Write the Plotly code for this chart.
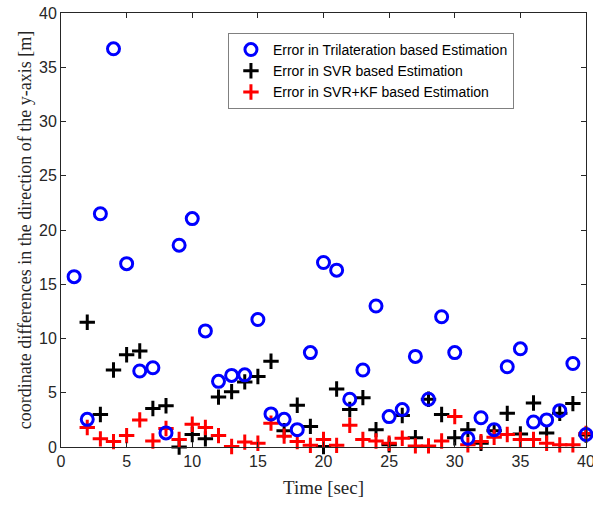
import plotly.graph_objects as go

time_tri = list(range(1, 41))
err_tri = [15.7, 2.55, 21.5, 36.7, 16.9, 7.0, 7.3, 1.3, 18.6, 21.05,
           10.7, 6.05, 6.6, 6.65, 11.75, 3.05, 2.55, 1.6, 8.7, 17.0,
           16.3, 4.4, 7.1, 13.0, 2.8, 3.45, 8.35, 4.4, 12.0, 8.7,
           0.8, 2.7, 1.6, 7.4, 9.05, 2.3, 2.5, 3.35, 7.7, 1.15]

time_svr = list(range(2, 41))
err_svr = [11.5, 3.0, 7.1, 8.5, 8.85, 3.55, 3.8, 0.0, 1.15, 0.75,
           4.6, 5.1, 6.0, 6.5, 7.9, 1.5, 3.85, 1.9, 0.05, 5.35,
           3.45, 4.55, 1.6, 0.2, 2.9, 0.85, 4.4, 3.0, 0.85, 1.6,
           0.35, 1.5, 3.1, 1.2, 4.05, 1.3, 3.1, 4.0, 1.1]

time_kf = list(range(2, 41))
err_kf = [1.8, 0.75, 0.5, 1.05, 2.5, 0.55, 1.7, 0.7, 2.1, 1.8,
          1.05, 0.05, 0.45, 0.35, 2.2, 1.0, 0.5, 0.15, 0.7, 0.15,
          2.0, 0.7, 0.55, 0.35, 0.8, 0.1, 0.1, 0.55, 2.8, 0.2,
          0.5, 0.9, 1.15, 0.7, 0.7, 0.35, 0.2, 0.2, 1.25]

names = ["Error in Trilateration based Estimation",
         "Error in SVR based Estimation",
         "Error in SVR+KF based Estimation"]

fig = go.Figure()
fig.add_trace(go.Scatter(
    x=time_svr, y=err_svr, mode="markers", name=names[1], legendrank=2,
    marker=dict(symbol="cross-thin", size=11, color="black",
                line=dict(width=3, color="black")),
    cliponaxis=False))
fig.add_trace(go.Scatter(
    x=time_kf, y=err_kf, mode="markers", name=names[2], legendrank=3,
    marker=dict(symbol="cross-thin", size=11, color="#ff0000",
                line=dict(width=3, color="#ff0000")),
    cliponaxis=False))
fig.add_trace(go.Scatter(
    x=time_tri, y=err_tri, mode="markers", name=names[0], legendrank=1,
    marker=dict(symbol="circle-open", size=12, color="#0000ff",
                line=dict(width=3, color="#0000ff")),
    cliponaxis=False))

axis_common = dict(
    showgrid=False, zeroline=False, showline=True, mirror="ticks",
    linecolor="#262626", linewidth=1, ticks="inside", ticklen=5,
    tickcolor="#262626", tickwidth=1, automargin=False,
    ticklabeloverflow="allow",
    tickfont=dict(family="Liberation Sans, Arial", size=16, color="#262626"),
)

fig.update_layout(
    width=593, height=507,
    margin=dict(l=61, r=7, t=13, b=60),
    paper_bgcolor="white", plot_bgcolor="white",
    xaxis=dict(range=[0, 40], dtick=5, tick0=0,
               title=dict(text="Time [sec]", standoff=11,
                          font=dict(family="Liberation Serif, Times New Roman", size=19, color="#262626")),
               **axis_common),
    yaxis=dict(range=[0, 40], dtick=5, tick0=0,
               title=dict(text="coordinate differences in the direction of the y-axis [m]", standoff=2,
                          font=dict(family="Liberation Serif, Times New Roman", size=18, color="#262626")),
               **axis_common),
    legend=dict(x=0.318, y=0.954, xanchor="left", yanchor="top",
                bordercolor="#808080", borderwidth=1, bgcolor="white",
                itemwidth=34,
                font=dict(family="Liberation Sans, Arial", size=14, color="black"),
                traceorder="normal"),
    showlegend=True,
)
fig.write_html("out.html", config={"displayModeBar": False},
               post_script="document.body.style.margin='0';document.body.style.overflow='hidden';")
